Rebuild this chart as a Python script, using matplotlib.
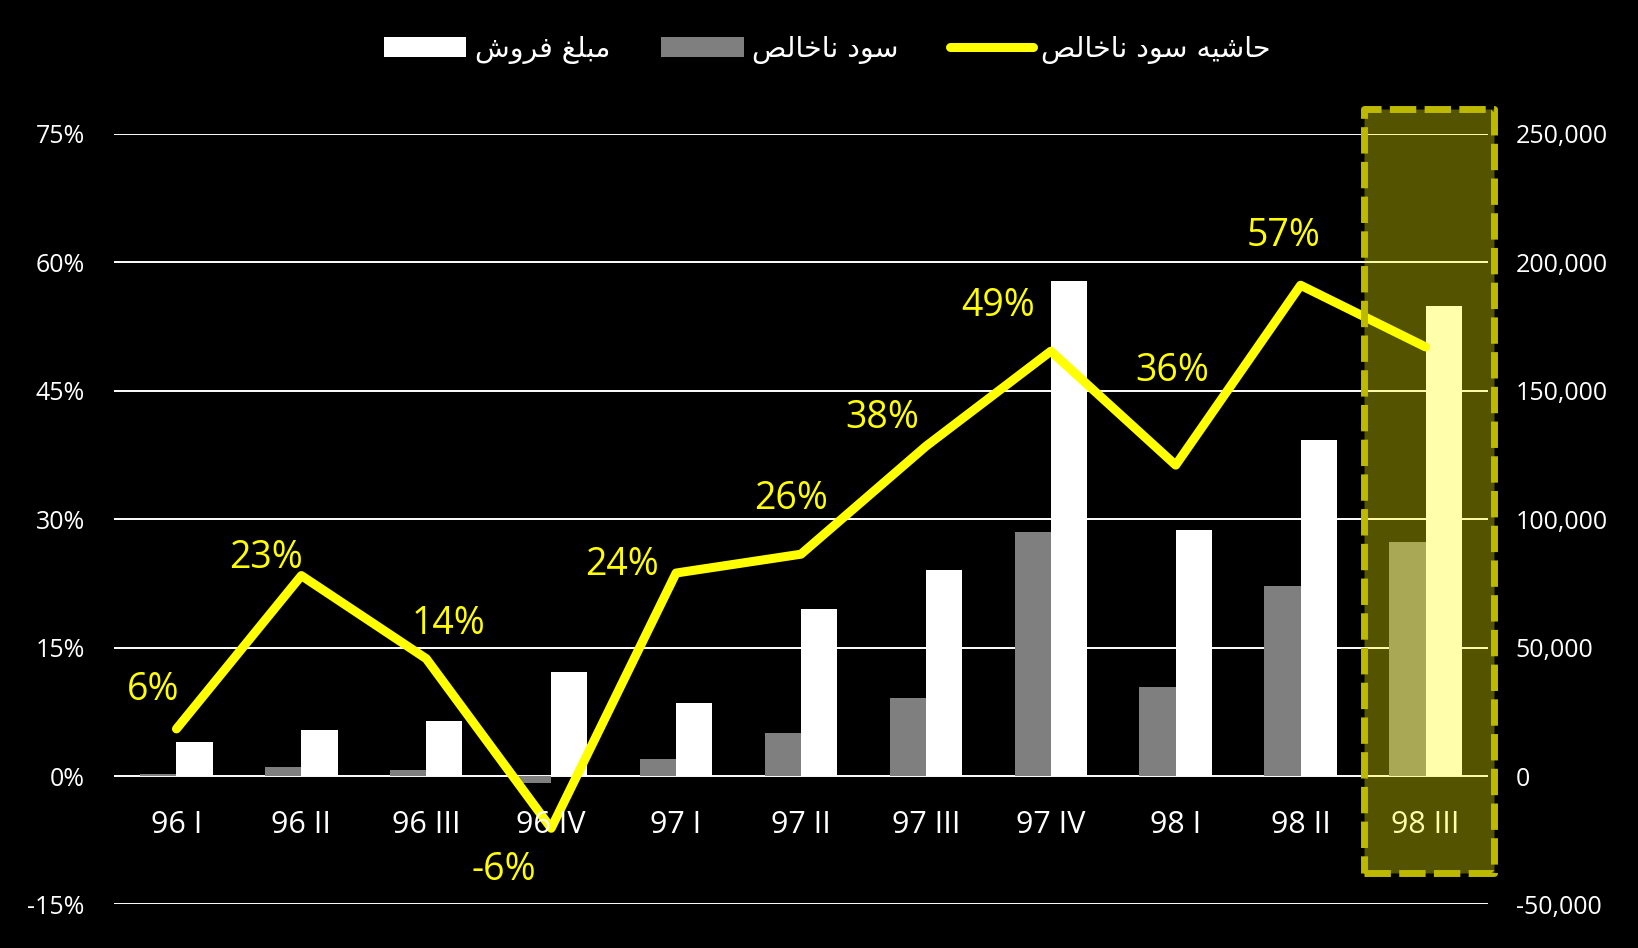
import matplotlib
matplotlib.use("Agg")
import matplotlib.pyplot as plt
from matplotlib.patches import Patch, Rectangle
from matplotlib.lines import Line2D

# ---------------- data ----------------
categories = ["96 I", "96 II", "96 III", "96 IV", "97 I", "97 II", "97 III",
              "97 IV", "98 I", "98 II", "98 III"]
sales = [13400, 17900, 21600, 40300, 28500, 65100, 80200, 192600, 95700, 130700, 182800]
gross_profit = [600, 3700, 2400, -2800, 6500, 16700, 30500, 94900, 34600, 74100, 91200]
margin_pct = [5.5, 23.4, 13.7, -6.1, 23.7, 25.9, 38.5, 49.6, 36.3, 57.3, 50.1]
margin_labels = ["6%", "23%", "14%", "-6%", "24%", "26%", "38%", "49%", "36%", "57%", None]
pct_ticks = [-15, 0, 15, 30, 45, 60, 75]
val_ticks = [-50000, 0, 50000, 100000, 150000, 200000, 250000]
legend_labels = ["مبلغ فروش", "سود ناخالص", "حاشیه سود ناخالص"]

# label offsets (style): (dx in categories, dy in percent)
label_offsets = [(-0.19, 4.5), (-0.28, 2.1), (0.18, 4.0), (-0.38, -4.9), (-0.43, 0.9),
                 (-0.08, 6.4), (-0.35, 3.3), (-0.42, 5.3), (-0.03, 11.0), (-0.14, 5.8)]

# ------------- simple Arabic/Persian shaping -------------
FORMS = {
    '\u0627': ('\uFE8D', '\uFE8E', None, None),          # alef
    '\u0628': ('\uFE8F', '\uFE90', '\uFE91', '\uFE92'),  # beh
    '\u062D': ('\uFEA1', '\uFEA2', '\uFEA3', '\uFEA4'),  # hah
    '\u062E': ('\uFEA5', '\uFEA6', '\uFEA7', '\uFEA8'),  # khah
    '\u062F': ('\uFEA9', '\uFEAA', None, None),          # dal
    '\u0631': ('\uFEAD', '\uFEAE', None, None),          # reh
    '\u0633': ('\uFEB1', '\uFEB2', '\uFEB3', '\uFEB4'),  # seen
    '\u0634': ('\uFEB5', '\uFEB6', '\uFEB7', '\uFEB8'),  # sheen
    '\u0635': ('\uFEB9', '\uFEBA', '\uFEBB', '\uFEBC'),  # sad
    '\u063A': ('\uFECD', '\uFECE', '\uFECF', '\uFED0'),  # ghain
    '\u0641': ('\uFED1', '\uFED2', '\uFED3', '\uFED4'),  # feh
    '\u0644': ('\uFEDD', '\uFEDE', '\uFEDF', '\uFEE0'),  # lam
    '\u0645': ('\uFEE1', '\uFEE2', '\uFEE3', '\uFEE4'),  # meem
    '\u0646': ('\uFEE5', '\uFEE6', '\uFEE7', '\uFEE8'),  # noon
    '\u0647': ('\uFEE9', '\uFEEA', '\uFEEB', '\uFEEC'),  # heh
    '\u0648': ('\uFEED', '\uFEEE', None, None),          # waw
    '\u06CC': ('\uFBFC', '\uFBFD', '\uFBFE', '\uFBFF'),  # farsi yeh
    '\u064A': ('\uFEF1', '\uFEF2', '\uFEF3', '\uFEF4'),  # arabic yeh
}


def shape(text):
    out = []
    n = len(text)
    for i, ch in enumerate(text):
        f = FORMS.get(ch)
        if f is None:
            out.append(ch)
            continue
        prev = text[i - 1] if i > 0 else None
        nxt = text[i + 1] if i < n - 1 else None
        joins_prev = prev in FORMS and FORMS[prev][2] is not None
        joins_next = f[2] is not None and nxt in FORMS
        if joins_prev and joins_next:
            g = f[3]
        elif joins_prev:
            g = f[1]
        elif joins_next:
            g = f[2]
        else:
            g = f[0]
        out.append(g)
    return "".join(reversed(out))


# ---------------- figure ----------------
NUM_FONT = ["Open Sans", "DejaVu Sans"]
AR_FONT = ["DejaVu Sans"]
WHITE = "#FFFFFF"
GRAY = "#7F7F7F"
YELLOW = "#FFFF00"

fig = plt.figure(figsize=(16.38, 9.48), dpi=100, facecolor="black")
ax = fig.add_axes([0.0696, 0.0459, 0.8388, 0.8131])
ax.set_facecolor("black")
ax2 = ax.twinx()

x = list(range(len(categories)))
bw = 0.29
ax.bar([i - bw / 2 for i in x], gross_profit, width=bw, color=GRAY, zorder=2)
ax.bar([i + bw / 2 for i in x], sales, width=bw, color=WHITE, zorder=2)

ax.set_ylim(val_ticks[0], val_ticks[-1])
ax.set_yticks(val_ticks)
ax.set_yticklabels([f"{v:,}" for v in val_ticks])
ax.yaxis.tick_right()
ax.yaxis.grid(True, color=WHITE, linewidth=1.4)
ax.set_axisbelow(True)
ax.tick_params(axis="y", length=0, pad=20, colors=WHITE, labelsize=18)
for lb in ax.get_yticklabels():
    lb.set_fontfamily(NUM_FONT)
ax.set_xlim(-0.5, len(categories) - 0.5)
ax.set_xticks([])

ax2.plot(x, margin_pct, color=YELLOW, linewidth=6.5, solid_capstyle="round",
         solid_joinstyle="round", zorder=3)
ax2.set_ylim(pct_ticks[0], pct_ticks[-1])
ax2.set_yticks(pct_ticks)
ax2.set_yticklabels([f"{p}%" for p in pct_ticks])
ax2.yaxis.tick_left()
ax2.tick_params(axis="y", length=0, pad=21, colors=WHITE, labelsize=18)
for lb in ax2.get_yticklabels():
    lb.set_fontfamily(NUM_FONT)
ax2.set_xlim(-0.5, len(categories) - 0.5)
ax2.set_xticks([])

for a in (ax, ax2):
    for s in a.spines.values():
        s.set_visible(False)

# category labels below the zero line
for i, c in enumerate(categories):
    ax2.text(i, -5.7, c, ha="center", va="center", color=WHITE, fontsize=22,
             family=NUM_FONT, zorder=4)

# margin data labels
for i, lab in enumerate(margin_labels):
    if lab is None:
        continue
    dx, dy = label_offsets[i]
    ax2.text(i + dx, margin_pct[i] + dy, lab, ha="center", va="center",
             color=YELLOW, fontsize=27, family=NUM_FONT, zorder=4)

# highlight box around the last quarter
hl = Rectangle((9.51, -11.3), 1.04, 89.2, facecolor=(1, 1, 0, 0.33),
               edgecolor="#BDB900", linewidth=5, linestyle=(0, (3.8, 1.2)),
               joinstyle="round", clip_on=False, zorder=10)
ax2.add_patch(hl)

# legend
handles = [Patch(facecolor=WHITE, edgecolor="none"),
           Patch(facecolor=GRAY, edgecolor="none"),
           Line2D([0], [0], color=YELLOW, linewidth=6.5, solid_capstyle="round")]
leg = fig.legend(handles, [shape(t) for t in legend_labels], loc="center",
                 bbox_to_anchor=(0.505, 0.948), ncol=3, frameon=False,
                 handlelength=2.9, handleheight=0.7, handletextpad=0.3,
                 columnspacing=1.8, prop={"family": AR_FONT, "size": 20.5})
for t in leg.get_texts():
    t.set_color(WHITE)

fig.savefig("out.png", dpi=100, facecolor="black")
